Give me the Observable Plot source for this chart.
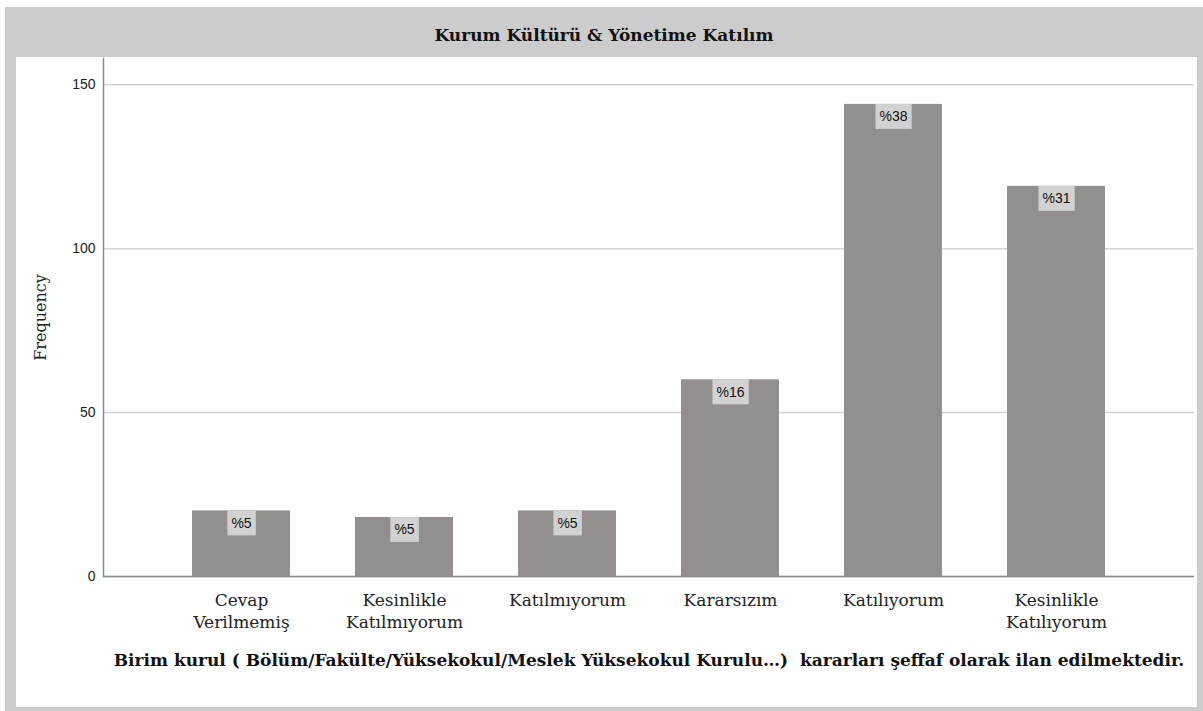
<!DOCTYPE html>
<html><head><meta charset="utf-8">
<script src="https://cdn.jsdelivr.net/npm/d3@7"></script>
<script src="https://cdn.jsdelivr.net/npm/@observablehq/plot@0.6"></script>
<style>
body{margin:0;background:#fff;}
#frame{position:absolute;left:5px;top:7px;width:1198px;height:704px;background:#cccccc;}
#title{position:absolute;left:0;top:6px;width:1198px;height:44px;line-height:44px;text-align:center;font-family:"DejaVu Serif";font-weight:bold;font-size:17px;color:#111;}
#panel{position:absolute;left:11px;top:50px;width:1181px;height:650px;background:#fff;}
#panel svg [aria-label="x-axis label"]{font-weight:bold;fill:#111;}
#panel svg [aria-label="y-axis label"]{font-family:"DejaVu Serif";font-size:16px;fill:#222;}
</style>
</head><body>
<div id="frame"><div id="title">Kurum Kültürü &amp; Yönetime Katılım</div><div id="panel"></div></div>
<script>
const categories = ["Cevap Verilmemiş","Kesinlikle Katılmıyorum","Katılmıyorum","Kararsızım","Katılıyorum","Kesinlikle Katılıyorum"];
const tickLabels = ["Cevap\nVerilmemiş","Kesinlikle\nKatılmıyorum","Katılmıyorum","Kararsızım","Katılıyorum","Kesinlikle\nKatılıyorum"];
const frequencies = [20,18,20,60,144,119];
const percentLabels = ["%5","%5","%5","%16","%38","%31"];
const yTicks = [0,50,100,150];
const xTitle = "Birim kurul ( Bölüm/Fakülte/Yüksekokul/Meslek Yüksekokul Kurulu…)  kararları şeffaf olarak ilan edilmektedir.";
const yTitle = "Frequency";

const data = categories.map((c,i)=>({cat:c, freq:frequencies[i], pct:percentLabels[i]}));
const tickMap = new Map(categories.map((c,i)=>[c,tickLabels[i]]));

const chart = Plot.plot({
  width:1181, height:650,
  marginLeft:87, marginRight:3, marginTop:1, marginBottom:131,
  x:{domain:categories, paddingInner:0.4, paddingOuter:0.53},
  y:{domain:[0,158]},
  marks:[
    Plot.gridY(yTicks,{stroke:"#d4d4d4", strokeOpacity:1, strokeWidth:1.5}),
    Plot.barY(data,{x:"cat", y:"freq", fill:"#938f8e"}),
    Plot.text(data,{x:"cat", y:"freq", text:"pct", dy:12.5, fontFamily:"Liberation Sans", fontSize:14, fill:"#111"}),
    Plot.ruleY([0],{stroke:"#8c8c8c", strokeWidth:1.5}),
    Plot.frame({anchor:"left", stroke:"#8c8c8c", strokeWidth:1.5}),
    Plot.axisY({ticks:yTicks, tickSize:0, tickPadding:8, fontFamily:"Liberation Sans", fontSize:14, color:"#222",
      label:yTitle, labelArrow:false, labelAnchor:"center", labelOffset:69}),
    Plot.axisX({tickSize:0, tickPadding:14, tickFormat:d=>tickMap.get(d), fontFamily:"DejaVu Serif", fontSize:17, lineHeight:1.28, color:"#222",
      label:xTitle, labelAnchor:"center", labelOffset:89})
  ]
});
document.getElementById("panel").appendChild(chart);

// background boxes behind the percentage labels
const g = chart.querySelector('g[aria-label="text"]');
if (g) {
  g.querySelectorAll("text").forEach(t=>{
    const bb = t.getBBox();
    const r = document.createElementNS("http://www.w3.org/2000/svg","rect");
    r.setAttribute("x", bb.x-4);
    r.setAttribute("width", bb.width+8);
    r.setAttribute("y", bb.y+bb.height/2-12.5);
    r.setAttribute("height", 25);
    r.setAttribute("fill", "#d2d2d2");
    const tr = t.getAttribute("transform");
    if (tr) r.setAttribute("transform", tr);
    g.insertBefore(r, t);
  });
}
</script>
</body></html>
